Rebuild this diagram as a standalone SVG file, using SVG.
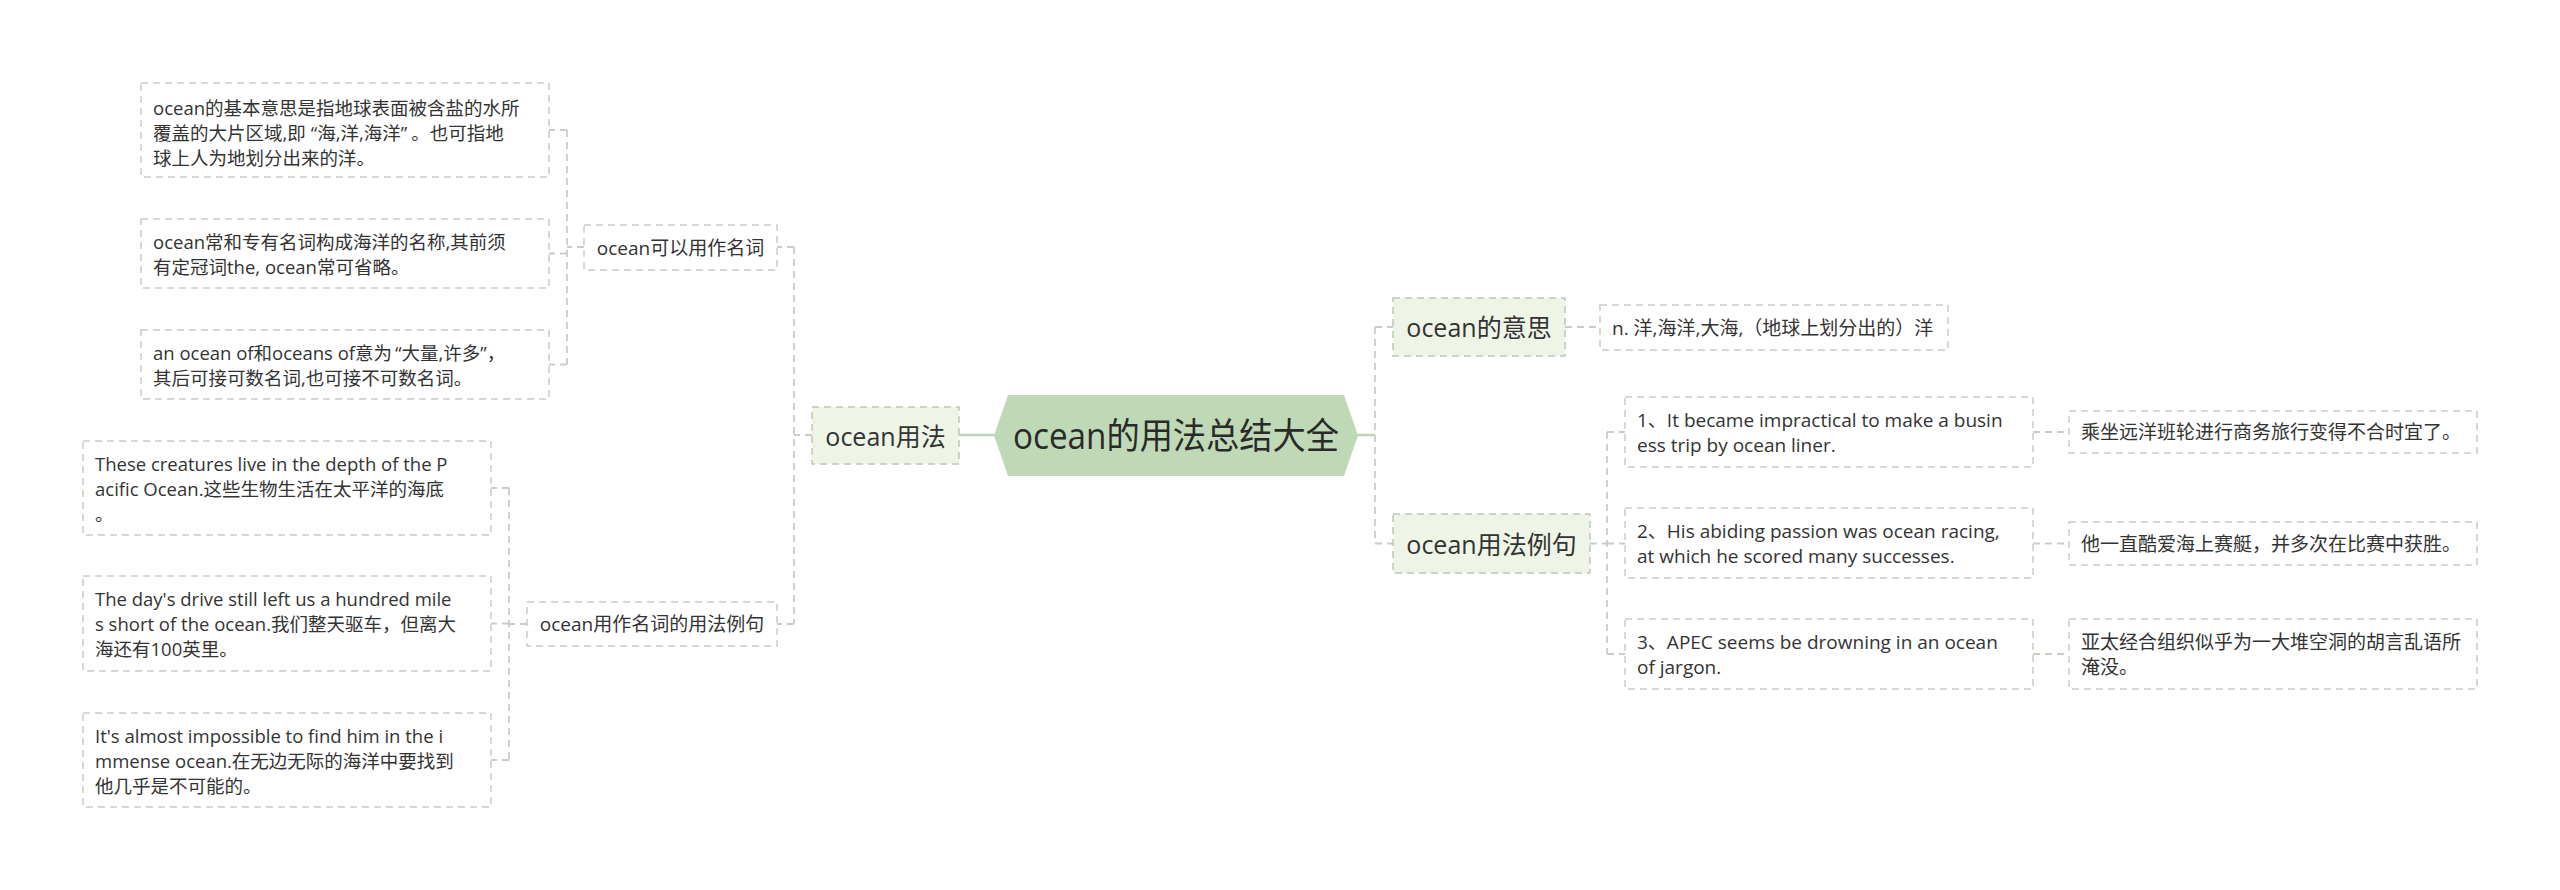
<svg xmlns="http://www.w3.org/2000/svg" width="2560" height="890" viewBox="0 0 2560 890">
<style>
.bg{fill:#ffffff}
.box{fill:#ffffff;stroke:#c9cec3;stroke-width:1.5;stroke-dasharray:7 5}
.l1{fill:#eef5e6;stroke:#bfc6b8;stroke-width:1.5;stroke-dasharray:7 5}
.root{fill:#bfd9b7}
.t{font-family:"Open Sans","Noto Sans CJK SC",sans-serif;fill:#333333;dominant-baseline:central}
.leaf{font-size:18.5px}
.leafr{font-size:19px}
.mid{font-size:19px}
.big{font-size:25px}
.rt{font-size:36px;fill:#2a2a2a}
.c{fill:none;stroke:#c9cec3;stroke-width:1.8;stroke-dasharray:7 5}
.s{fill:none;stroke:#bcd6b3;stroke-width:2.5}
</style>
<rect class="bg" x="0" y="0" width="2560" height="890"/>
<g id="connectors">
<path class="s" d="M959,435 H994"/>
<path class="s" d="M1358,435 H1375"/>
<path class="c" d="M812,435 H794 M794,247 V624 M794,247 H777 M794,624 H777"/>
<path class="c" d="M584,247 H567 M567,130 V364.5 M567,130 H549 M567,253.5 H549 M567,364.5 H549"/>
<path class="c" d="M527,624 H509 M509,488 V760 M509,488 H491 M509,623.5 H491 M509,760 H491"/>
<path class="c" d="M1375,327 V543.5 M1375,327 H1393 M1375,543.5 H1393"/>
<path class="c" d="M1565,327 H1600"/>
<path class="c" d="M1590,543.5 H1607 M1607,432 V654 M1607,432 H1625 M1607,543.5 H1625 M1607,654 H1625"/>
<path class="c" d="M2033,432 H2069 M2033,543.5 H2069 M2033,654 H2069"/>
</g>
<g id="root">
<polygon class="root" points="994,435.5 1008,395 1344,395 1358,435.5 1344,476 1008,476"/>
<text class="t rt" x="1013" y="435.5" textLength="326" lengthAdjust="spacingAndGlyphs">ocean的用法总结大全</text>
</g>
<g id="n-usage">
<rect class="l1" x="812" y="407" width="147" height="57"/>
<text class="t big" x="885.5" y="435.5" text-anchor="middle">ocean用法</text>
</g>
<g id="n-noun">
<rect class="box" x="584" y="225" width="193" height="45"/>
<text class="t mid" x="680.5" y="247.5" text-anchor="middle">ocean可以用作名词</text>
</g>
<g id="n-noun-ex">
<rect class="box" x="527" y="602" width="250" height="44"/>
<text class="t mid" x="652" y="624" text-anchor="middle">ocean用作名词的用法例句</text>
</g>
<g id="a1">
<rect class="box" x="141" y="83" width="408" height="94"/>
<text class="t leaf" x="153" y="107">ocean的基本意思是指地球表面被含盐的水所</text>
<text class="t leaf" x="153" y="132">覆盖的大片区域,即<tspan dx="5">“</tspan>海,洋,海洋”<tspan dx="4">。</tspan>也可指地</text>
<text class="t leaf" x="153" y="157">球上人为地划分出来的洋。</text>
</g>
<g id="a2">
<rect class="box" x="141" y="219" width="408" height="69"/>
<text class="t leaf" x="153" y="241">ocean常和专有名词构成海洋的名称,其前须</text>
<text class="t leaf" x="153" y="266">有定冠词the, ocean常可省略。</text>
</g>
<g id="a3">
<rect class="box" x="141" y="330" width="408" height="69"/>
<text class="t leaf" x="153" y="352">an ocean of和oceans of意为<tspan dx="3">“</tspan>大量,许多”，</text>
<text class="t leaf" x="153" y="377">其后可接可数名词,也可接不可数名词。</text>
</g>
<g id="b1">
<rect class="box" x="83" y="441" width="408" height="94"/>
<text class="t leaf" x="95" y="463">These creatures live in the depth of the P</text>
<text class="t leaf" x="95" y="488">acific Ocean.这些生物生活在太平洋的海底</text>
<text class="t leaf" x="95" y="513">。</text>
</g>
<g id="b2">
<rect class="box" x="83" y="576" width="408" height="95"/>
<text class="t leaf" x="95" y="598.5">The day's drive still left us a hundred mile</text>
<text class="t leaf" x="95" y="623.5">s short of the ocean.我们整天驱车，但离大</text>
<text class="t leaf" x="95" y="648.5">海还有100英里。</text>
</g>
<g id="b3">
<rect class="box" x="83" y="713" width="408" height="94"/>
<text class="t leaf" x="95" y="735">It's almost impossible to find him in the i</text>
<text class="t leaf" x="95" y="760">mmense ocean.在无边无际的海洋中要找到</text>
<text class="t leaf" x="95" y="785">他几乎是不可能的。</text>
</g>
<g id="n-meaning">
<rect class="l1" x="1393" y="298" width="172" height="58"/>
<text class="t big" x="1479" y="327" text-anchor="middle">ocean的意思</text>
</g>
<g id="n-meaning-text">
<rect class="box" x="1600" y="305" width="348" height="45"/>
<text class="t leafr" x="1612" y="327.5">n. 洋,海洋,大海,（地球上划分出的）洋</text>
</g>
<g id="n-examples">
<rect class="l1" x="1393" y="514" width="197" height="59"/>
<text class="t big" x="1491.5" y="543.5" text-anchor="middle">ocean用法例句</text>
</g>
<g id="c1">
<rect class="box" x="1625" y="397" width="408" height="70"/>
<text class="t leafr" x="1637" y="419.5">1、It became impractical to make a busin</text>
<text class="t leafr" x="1637" y="444.5">ess trip by ocean liner.</text>
</g>
<g id="c2">
<rect class="box" x="1625" y="508" width="408" height="70"/>
<text class="t leafr" x="1637" y="530.5">2、His abiding passion was ocean racing,</text>
<text class="t leafr" x="1637" y="555.5">at which he scored many successes.</text>
</g>
<g id="c3">
<rect class="box" x="1625" y="619" width="408" height="70"/>
<text class="t leafr" x="1637" y="641.5">3、APEC seems be drowning in an ocean</text>
<text class="t leafr" x="1637" y="666.5">of jargon.</text>
</g>
<g id="d1">
<rect class="box" x="2069" y="411" width="408" height="42"/>
<text class="t leafr" x="2081" y="432">乘坐远洋班轮进行商务旅行变得不合时宜了。</text>
</g>
<g id="d2">
<rect class="box" x="2069" y="522" width="408" height="43"/>
<text class="t leafr" x="2081" y="543.5">他一直酷爱海上赛艇，并多次在比赛中获胜。</text>
</g>
<g id="d3">
<rect class="box" x="2069" y="619" width="408" height="70"/>
<text class="t leafr" x="2081" y="641.5">亚太经合组织似乎为一大堆空洞的胡言乱语所</text>
<text class="t leafr" x="2081" y="666.5">淹没。</text>
</g>
</svg>
